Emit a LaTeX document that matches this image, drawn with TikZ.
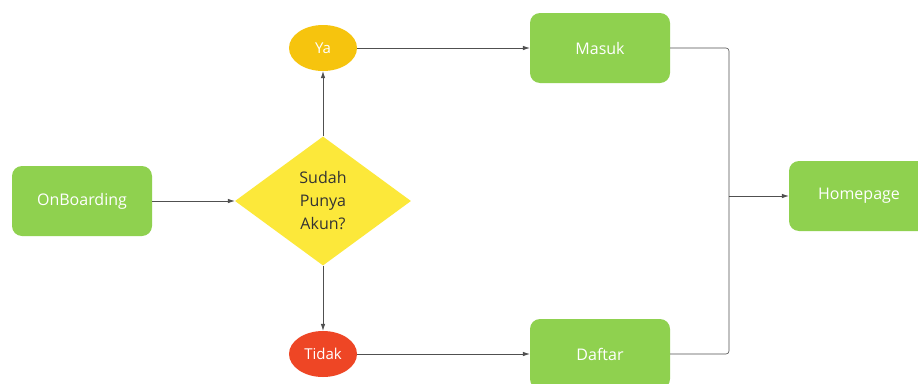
\documentclass[tikz,border=0pt]{standalone}
\usepackage{fontspec}
\setmainfont{Open Sans}
\usetikzlibrary{shapes.geometric,arrows.meta}
\definecolor{boxgreen}{HTML}{8FD14F}
\definecolor{diayellow}{HTML}{FCE83A}
\definecolor{yaorange}{HTML}{F6C40E}
\definecolor{tidakred}{HTML}{EE4625}
\definecolor{linegray}{HTML}{505050}
\definecolor{darktext}{HTML}{333333}
\tikzset{
  pagebox/.style={rectangle, rounded corners=10pt, fill=boxgreen, draw=none,
    minimum width=140pt, minimum height=70pt, text=white, font=\fontsize{16}{19}\selectfont},
  choice/.style={ellipse, draw=none, minimum width=68pt, minimum height=46pt, inner sep=0pt,
    text=white, font=\fontsize{15}{18}\selectfont},
  decision/.style={diamond, fill=diayellow, draw=none, minimum width=176pt, minimum height=129pt,
    inner sep=0pt, aspect=1.36, align=center, text=darktext, font=\fontsize{16}{23}\selectfont},
  flow/.style={draw=linegray, line width=0.6pt, -{Latex[length=7pt,width=4.5pt]}},
  joint/.style={draw=linegray, line width=0.6pt, rounded corners=3pt}
}
\begin{document}
\begin{tikzpicture}[x=1pt,y=-1pt]
  \clip (0,0) rectangle (918,383);
  \fill[white] (0,0) rectangle (918,383);
  \node[pagebox] (onb) at (82,201) {OnBoarding};
  \node[decision] (akun) at (323,201) {Sudah\\Punya\\Akun?};
  \node[choice, fill=yaorange] (ya) at (323,48) {Ya};
  \node[choice, fill=tidakred] (tidak) at (323,354) {Tidak};
  \node[pagebox] (masuk) at (600,48) {Masuk};
  \node[pagebox] (daftar) at (600,354) {Daftar};
  \node[pagebox] (home) at (859,196) {Homepage};
  \coordinate (merge) at (729,196);

  \draw[flow] (onb.east) -- (akun.west);
  \draw[flow] (akun.north) -- (ya.south);
  \draw[flow] (akun.south) -- (tidak.north);
  \draw[flow] (ya.east) -- (masuk.west);
  \draw[flow] (tidak.east) -- (daftar.west);
  \draw[joint] (masuk.east) -| (merge);
  \draw[joint] (daftar.east) -| (merge);
  \draw[flow] (merge) -- (home.west);
\end{tikzpicture}
\end{document}
